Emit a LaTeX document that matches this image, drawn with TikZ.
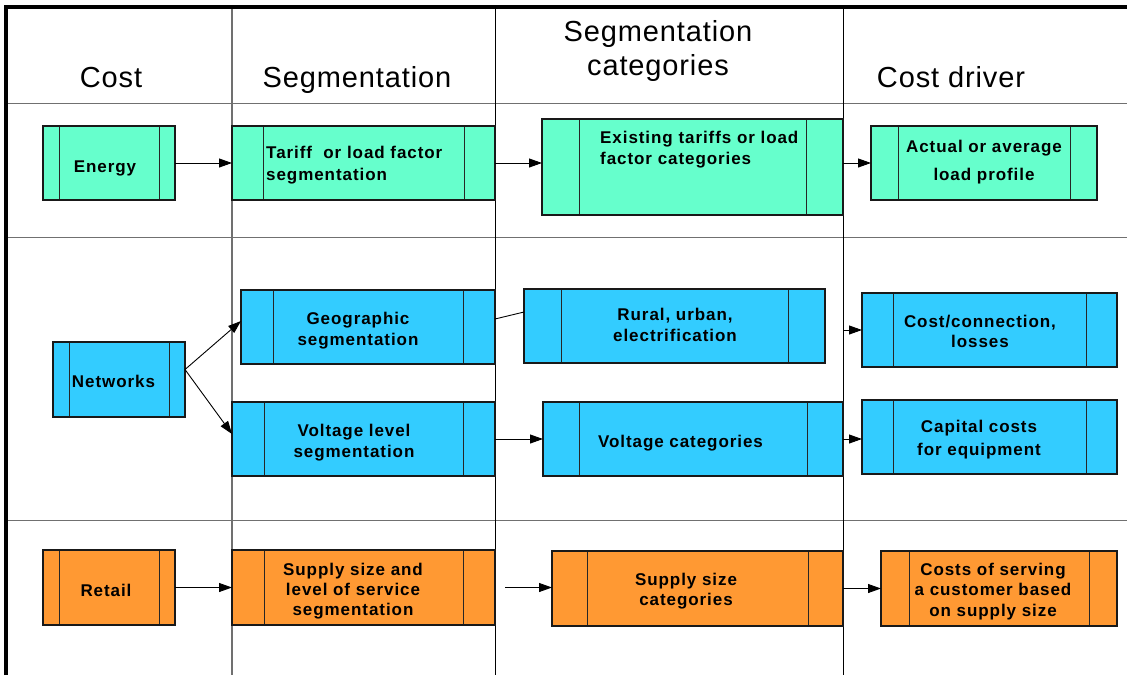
\documentclass[tikz,border=0pt]{standalone}
\usepackage{fontspec}
\setmainfont{Liberation Sans}
\newfontfamily\headfont[LetterSpace=3]{Liberation Sans}
\newfontfamily\boxfont[LetterSpace=5.5]{Liberation Sans}
\usetikzlibrary{arrows.meta}

\definecolor{energyfill}{HTML}{66FFCC}
\definecolor{netfill}{HTML}{33CCFF}
\definecolor{retailfill}{HTML}{FF9933}
\definecolor{gridgray}{HTML}{707070}

\tikzset{
  procbox/.style={draw=black!90, line width=1.1pt, inner sep=0pt, outer sep=0pt, anchor=north west},
  bands/.style={path picture={
      \draw[line width=1pt, black!85]
        ([xshift=#1pt]path picture bounding box.north west) --
        ([xshift=#1pt]path picture bounding box.south west);
      \draw[line width=1pt, black!85]
        ([xshift=-#1pt]path picture bounding box.north east) --
        ([xshift=-#1pt]path picture bounding box.south east);}},
  % the base anchor of a multi-line text sits on its last line
  boxtext/.style={anchor=base, inner sep=0pt, align=center,
      font={\boxfont\bfseries\fontsize{17}{21}\selectfont}},
  headtext/.style={anchor=base, inner sep=0pt, align=center,
      font={\headfont\fontsize{29}{34}\selectfont}},
  conn/.style={-{Triangle[length=13pt,width=9pt]}, line width=0.9pt},
  plainconn/.style={line width=0.9pt},
}

\begin{document}
\begin{tikzpicture}[x=1pt, y=-1pt]
\useasboundingbox (0,0) rectangle (1127,675);

% table grid
\draw[gridgray, line width=1.5pt] (8,103.5) -- (1127,103.5);
\draw[gridgray, line width=1.5pt] (8,237.5) -- (1127,237.5);
\draw[gridgray, line width=1.5pt] (8,520.5) -- (1127,520.5);
\draw[gridgray, line width=1.3pt] (232,9) -- (232,675);
\draw[black, line width=1.2pt] (495.5,9) -- (495.5,675);
\draw[black, line width=1.2pt] (843.5,9) -- (843.5,675);
\draw[black, line width=4pt] (6,675) -- (6,7) -- (1127,7);

% column headings
\node[headtext] (h-cost) at (111,87) {Cost};
\node[headtext] (h-seg) at (357,87) {Segmentation};
\node[headtext] (h-cat) at (658,75) {Segmentation\\categories};
\node[headtext] (h-driver) at (951,87) {Cost driver};

% energy row
\node[procbox, fill=energyfill, bands=16, minimum width=132pt, minimum height=74pt] (energy) at (43,126) {};
\node[procbox, fill=energyfill, bands=31, minimum width=263pt, minimum height=74pt] (tariff) at (232,126) {};
\node[procbox, fill=energyfill, bands=37, minimum width=301pt, minimum height=96pt] (existing) at (542,119) {};
\node[procbox, fill=energyfill, bands=27, minimum width=226pt, minimum height=74pt] (actual) at (871,126) {};

\node[boxtext] (energy-t) at (105,172) {Energy};
\node[boxtext, anchor=base west, align=left, font={\boxfont\bfseries\fontsize{17}{22}\selectfont}] (tariff-t) at (266,180) {Tariff\ \ or load factor\\segmentation};
\node[boxtext, anchor=base west, align=left] (existing-t) at (600,164) {Existing tariffs or load\\factor categories};
\node[boxtext, font={\boxfont\bfseries\fontsize{17}{28}\selectfont}] (actual-t) at (984,180) {Actual or average\\load profile};

% networks row
\node[procbox, fill=netfill, bands=16, minimum width=132pt, minimum height=75pt] (networks) at (53,342) {};
\node[procbox, fill=netfill, bands=32, minimum width=254pt, minimum height=74pt] (geo) at (241,290) {};
\node[procbox, fill=netfill, bands=37, minimum width=301pt, minimum height=74pt] (rural) at (524,289) {};
\node[procbox, fill=netfill, bands=31, minimum width=255pt, minimum height=74pt] (costconn) at (862,293) {};
\node[procbox, fill=netfill, bands=32, minimum width=263pt, minimum height=74pt] (voltlevel) at (232,402) {};
\node[procbox, fill=netfill, bands=36, minimum width=300pt, minimum height=74pt] (voltcat) at (543,402) {};
\node[procbox, fill=netfill, bands=31, minimum width=255pt, minimum height=74pt] (capital) at (862,400) {};

\node[boxtext] (networks-t) at (113.5,387) {Networks};
\node[boxtext] (geo-t) at (358,345) {Geographic\\segmentation};
\node[boxtext] (rural-t) at (675,341) {Rural, urban,\\electrification};
\node[boxtext, font={\boxfont\bfseries\fontsize{17}{20}\selectfont}] (costconn-t) at (980,347) {Cost/connection,\\losses};
\node[boxtext] (voltlevel-t) at (354,457) {Voltage level\\segmentation};
\node[boxtext] (voltcat-t) at (680.5,447) {Voltage categories};
\node[boxtext, font={\boxfont\bfseries\fontsize{17}{23}\selectfont}] (capital-t) at (979,455) {Capital costs\\for equipment};

% retail row
\node[procbox, fill=retailfill, bands=16, minimum width=132pt, minimum height=75pt] (retail) at (43,550) {};
\node[procbox, fill=retailfill, bands=32, minimum width=263pt, minimum height=75pt] (supply) at (232,550) {};
\node[procbox, fill=retailfill, bands=35, minimum width=291pt, minimum height=75pt] (supplycat) at (552,551) {};
\node[procbox, fill=retailfill, bands=28, minimum width=236pt, minimum height=75pt] (serving) at (881,551) {};

\node[boxtext] (retail-t) at (106,596) {Retail};
\node[boxtext, font={\boxfont\bfseries\fontsize{17}{20}\selectfont}] (supply-t) at (353,615) {Supply size and\\level of service\\segmentation};
\node[boxtext, font={\boxfont\bfseries\fontsize{17}{20}\selectfont}] (supplycat-t) at (686,605) {Supply size\\categories};
\node[boxtext, font={\boxfont\bfseries\fontsize{17}{20.5}\selectfont}] (serving-t) at (993,616) {Costs of serving\\a customer based\\on supply size};

% connectors
\draw[conn] (energy.east) -- (tariff.west);
\draw[conn] (tariff.east) -- (tariff.east -| existing.west);
\draw[conn] (actual.west -| existing.east) -- (actual.west);

\draw[conn] ([yshift=10pt]networks.east) -- ([yshift=6pt]geo.west);
\draw[conn] ([yshift=10pt]networks.east) -- ([yshift=5pt]voltlevel.west);
\draw[plainconn] ([yshift=8pt]geo.east) -- ([yshift=14pt]rural.west);
\draw[conn] (costconn.west -| voltcat.east) -- (costconn.west);
\draw[conn] (voltlevel.east) -- (voltcat.west);
\draw[conn] (voltcat.east) -- (voltcat.east -| capital.west);

\draw[conn] (retail.east) -- (retail.east -| supply.west);
\draw[conn] ([xshift=10pt]supply.east) -- (supply.east -| supplycat.west);
\draw[conn] (supplycat.east) -- (supplycat.east -| serving.west);
\end{tikzpicture}
\end{document}
